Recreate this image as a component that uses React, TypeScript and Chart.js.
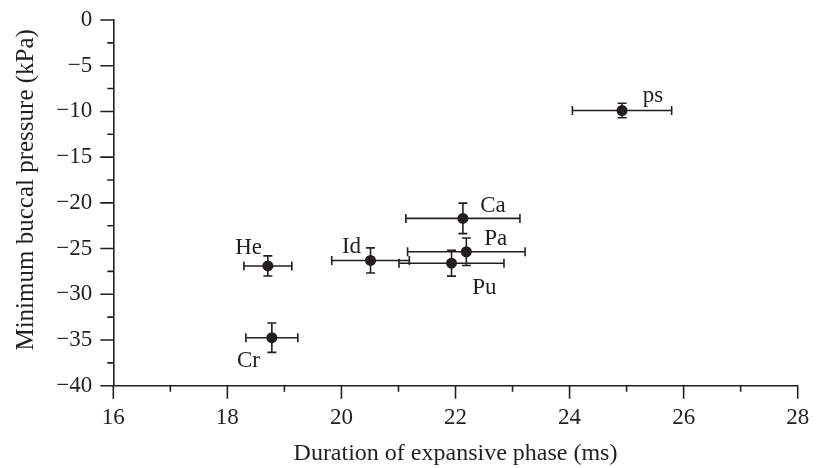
import React, { useEffect, useRef } from 'react';
import { Chart, registerables } from 'chart.js';

Chart.register(...registerables);

// ---- data ----
const species = ['ps', 'Ca', 'Pa', 'Pu', 'Id', 'He', 'Cr'];
const duration = [24.92, 22.13, 22.19, 21.93, 20.51, 18.71, 18.78];
const durationErr = [0.87, 1.0, 1.03, 0.92, 0.68, 0.42, 0.455];
const pressure = [-9.9, -21.7, -25.35, -26.6, -26.3, -26.9, -34.75];
const pressureErr = [0.8, 1.67, 1.5, 1.42, 1.37, 1.1, 1.6];

const xTitle = 'Duration of expansive phase (ms)';
const yTitle = 'Minimum buccal pressure (kPa)';
const xMin = 16, xMax = 28, xStep = 2;
const yMin = -40, yMax = 0, yStep = 5;

// label placement (px offsets from marker centre) – layout, not data
const labelOffsets: [number, number][] = [
  [31, -15], [30, -12.6], [29.3, -12.7], [32.8, 24.7], [-19, -13.3], [-19.2, -17.7], [-23.4, 23.6],
];

const INK = '#231f20';
const FONT = '"Liberation Serif", "Times New Roman", Times, serif';
const MAJOR = 13;
const MINOR = 6;
const LW = 1.6;
const CAP = 4.5;

const zeroPadding = (scale: any) => {
  scale.paddingTop = 0;
  scale.paddingBottom = 0;
  scale.paddingLeft = 0;
  scale.paddingRight = 0;
};

const errorBarPlugin = {
  id: 'errorBars',
  beforeDatasetsDraw(chart: any) {
    const { ctx, scales } = chart;
    const x = scales.x, y = scales.y;
    ctx.save();
    ctx.strokeStyle = INK;
    ctx.lineWidth = LW;
    for (let i = 0; i < duration.length; i++) {
      const cx = x.getPixelForValue(duration[i]);
      const cy = y.getPixelForValue(pressure[i]);
      const x0 = x.getPixelForValue(duration[i] - durationErr[i]);
      const x1 = x.getPixelForValue(duration[i] + durationErr[i]);
      const y0 = y.getPixelForValue(pressure[i] + pressureErr[i]);
      const y1 = y.getPixelForValue(pressure[i] - pressureErr[i]);
      ctx.beginPath();
      ctx.moveTo(x0, cy); ctx.lineTo(x1, cy);
      ctx.moveTo(x0, cy - CAP); ctx.lineTo(x0, cy + CAP);
      ctx.moveTo(x1, cy - CAP); ctx.lineTo(x1, cy + CAP);
      ctx.moveTo(cx, y0); ctx.lineTo(cx, y1);
      ctx.moveTo(cx - CAP, y0); ctx.lineTo(cx + CAP, y0);
      ctx.moveTo(cx - CAP, y1); ctx.lineTo(cx + CAP, y1);
      ctx.stroke();
    }
    ctx.restore();
  },
  afterDatasetsDraw(chart: any) {
    const { ctx, scales } = chart;
    const x = scales.x, y = scales.y;
    ctx.save();
    ctx.fillStyle = INK;
    ctx.font = `23px ${FONT}`;
    ctx.textAlign = 'center';
    ctx.textBaseline = 'middle';
    for (let i = 0; i < species.length; i++) {
      const cx = x.getPixelForValue(duration[i]);
      const cy = y.getPixelForValue(pressure[i]);
      ctx.fillText(species[i], cx + labelOffsets[i][0], cy + labelOffsets[i][1]);
    }
    ctx.restore();
  },
  afterDraw(chart: any) {
    const { ctx, scales, chartArea } = chart;
    const x = scales.x, y = scales.y;
    ctx.save();
    ctx.strokeStyle = INK;
    ctx.lineWidth = LW;
    ctx.beginPath();
    const xt = x.ticks;
    for (let i = 0; i < xt.length; i++) {
      const px = x.getPixelForValue(xt[i].value);
      ctx.moveTo(px, chartArea.bottom);
      ctx.lineTo(px, chartArea.bottom + MAJOR);
      if (i < xt.length - 1) {
        const pm = x.getPixelForValue((xt[i].value + xt[i + 1].value) / 2);
        ctx.moveTo(pm, chartArea.bottom);
        ctx.lineTo(pm, chartArea.bottom + MINOR);
      }
    }
    const yt = y.ticks;
    for (let i = 0; i < yt.length; i++) {
      const py = y.getPixelForValue(yt[i].value);
      ctx.moveTo(chartArea.left, py);
      ctx.lineTo(chartArea.left - MAJOR, py);
      if (i < yt.length - 1) {
        const pm = y.getPixelForValue((yt[i].value + yt[i + 1].value) / 2);
        ctx.moveTo(chartArea.left, pm);
        ctx.lineTo(chartArea.left - MINOR, pm);
      }
    }
    ctx.stroke();
    // y-axis title (slightly above the axis centre, as in the original)
    ctx.fillStyle = INK;
    ctx.font = `25px ${FONT}`;
    ctx.textAlign = 'center';
    ctx.textBaseline = 'middle';
    ctx.translate(26, (chartArea.top + chartArea.bottom) / 2 - 13);
    ctx.rotate(-Math.PI / 2);
    ctx.fillText(yTitle, 0, 0);
    ctx.restore();
  },
};

export default function App() {
  const ref = useRef<HTMLCanvasElement | null>(null);
  useEffect(() => {
    if (!ref.current) return;
    const chart = new Chart(ref.current, {
      type: 'scatter',
      data: {
        datasets: [
          {
            data: duration.map((d, i) => ({ x: d, y: pressure[i] })),
            backgroundColor: INK,
            borderColor: INK,
            borderWidth: 0,
            pointRadius: 5.5,
            pointHoverRadius: 5.5,
          },
        ],
      },
      options: {
        animation: false,
        responsive: false,
        maintainAspectRatio: false,
        layout: { padding: { top: 20, right: 25.3, left: 0, bottom: 0 } },
        plugins: { legend: { display: false }, tooltip: { enabled: false } },
        events: [],
        scales: {
          x: {
            type: 'linear',
            min: xMin,
            max: xMax,
            afterFit(scale: any) { scale.height = 82.3; zeroPadding(scale); },
            ticks: { stepSize: xStep, color: INK, font: { family: FONT, size: 23 }, padding: 18 },
            grid: { display: false, drawTicks: false },
            border: { display: true, color: INK, width: LW },
            title: { display: true, text: xTitle, color: INK, font: { family: FONT, size: 24 }, padding: { top: 0, bottom: 0 } },
          },
          y: {
            type: 'linear',
            min: yMin,
            max: yMax,
            afterFit(scale: any) { scale.width = 113.3; zeroPadding(scale); },
            ticks: {
              stepSize: yStep,
              color: INK,
              font: { family: FONT, size: 23 },
              padding: 21,
              callback: (v: any) => String(v).replace('-', '\u2212'),
            },
            grid: { display: false, drawTicks: false },
            border: { display: true, color: INK, width: LW },
            title: { display: false, text: yTitle },
          },
        },
      },
      plugins: [errorBarPlugin],
    });
    return () => chart.destroy();
  }, []);
  return (
    <div style={{ position: 'fixed', left: 0, top: 0, width: 823, height: 468, background: '#fff' }}>
      <canvas ref={ref} width={823} height={468} style={{ width: 823, height: 468 }} />
    </div>
  );
}
